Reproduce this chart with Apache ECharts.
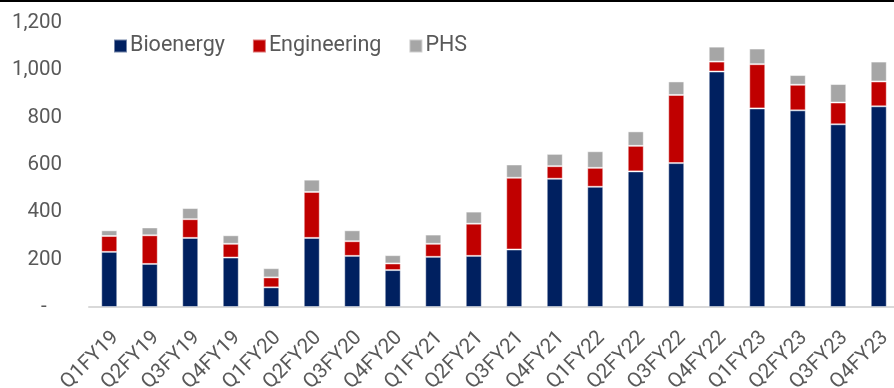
<!DOCTYPE html>
<html>
<head>
<meta charset="utf-8">
<script src="https://cdn.jsdelivr.net/npm/echarts@6/dist/echarts.min.js"></script>
<style>
  html, body { margin: 0; padding: 0; background: #fff; }
  #chart { width: 894px; height: 388px; }
</style>
</head>
<body>
<div id="chart"></div>
<script>
// Quarterly revenue by segment
const quarters = ['Q1FY19','Q2FY19','Q3FY19','Q4FY19','Q1FY20','Q2FY20','Q3FY20','Q4FY20',
  'Q1FY21','Q2FY21','Q3FY21','Q4FY21','Q1FY22','Q2FY22','Q3FY22','Q4FY22',
  'Q1FY23','Q2FY23','Q3FY23','Q4FY23'];
const bioenergy   = [233, 182, 292, 209, 83, 292, 216, 156, 212, 216, 243, 542, 508, 573, 608, 995, 839, 831, 772, 848];
const engineering = [67, 121, 79, 58, 42, 194, 62, 28, 55, 136, 303, 53, 80, 108, 288, 42, 187, 108, 92, 105];
const phs         = [24, 33, 47, 36, 39, 52, 46, 35, 39, 51, 56, 52, 70, 61, 57, 63, 66, 41, 78, 84];
const yTicks = [0, 200, 400, 600, 800, 1000, 1200];

const FONT = 'Roboto';
const TEXT = '#595959';

function fmt(v) {
  if (v === 0) return '-   ';
  return v.toLocaleString('en-US');
}

const barStyle = (color) => ({
  color: color,
  borderColor: 'rgba(255,255,255,0.45)',
  borderWidth: 1
});

const chart = echarts.init(document.getElementById('chart'), null, { renderer: 'canvas' });
chart.setOption({
  animation: false,
  backgroundColor: '#fff',
  textStyle: { fontFamily: FONT },
  graphic: [{
    type: 'rect', left: 0, top: 0,
    shape: { width: 894, height: 2 },
    style: { fill: '#000' }
  }],
  legend: {
    left: 108, top: 30,
    itemWidth: 13, itemHeight: 13, itemGap: 27,
    icon: 'rect',
    textStyle: { fontFamily: FONT, fontSize: 21.5, color: TEXT, padding: [0, 0, 0, -2] },
    data: ['Bioenergy', 'Engineering', 'PHS']
  },
  grid: { left: 89, right: -5, top: 23, bottom: 81, containLabel: false, outerBoundsMode: 'none' },
  xAxis: {
    type: 'category',
    data: quarters,
    axisLine: { lineStyle: { color: '#d9d9d9', width: 2 } },
    axisTick: { show: false },
    axisLabel: {
      rotate: 45, interval: 0, margin: 34,
      padding: [0, -9, 0, 0],
      fontFamily: FONT, fontSize: 20.5, color: TEXT
    }
  },
  yAxis: {
    type: 'value',
    min: yTicks[0], max: yTicks[yTicks.length - 1], interval: 200,
    splitLine: { show: false },
    axisLine: { show: false },
    axisTick: { show: false },
    axisLabel: {
      margin: 27, fontFamily: FONT, fontSize: 20.5, color: TEXT,
      formatter: fmt
    }
  },
  series: [
    { name: 'Bioenergy', type: 'bar', stack: 'rev', barWidth: 16, data: bioenergy, itemStyle: barStyle('#002060') },
    { name: 'Engineering', type: 'bar', stack: 'rev', barWidth: 16, data: engineering, itemStyle: barStyle('#c00000') },
    { name: 'PHS', type: 'bar', stack: 'rev', barWidth: 16, data: phs, itemStyle: barStyle('#a6a6a6') }
  ]
});
</script>
</body>
</html>
